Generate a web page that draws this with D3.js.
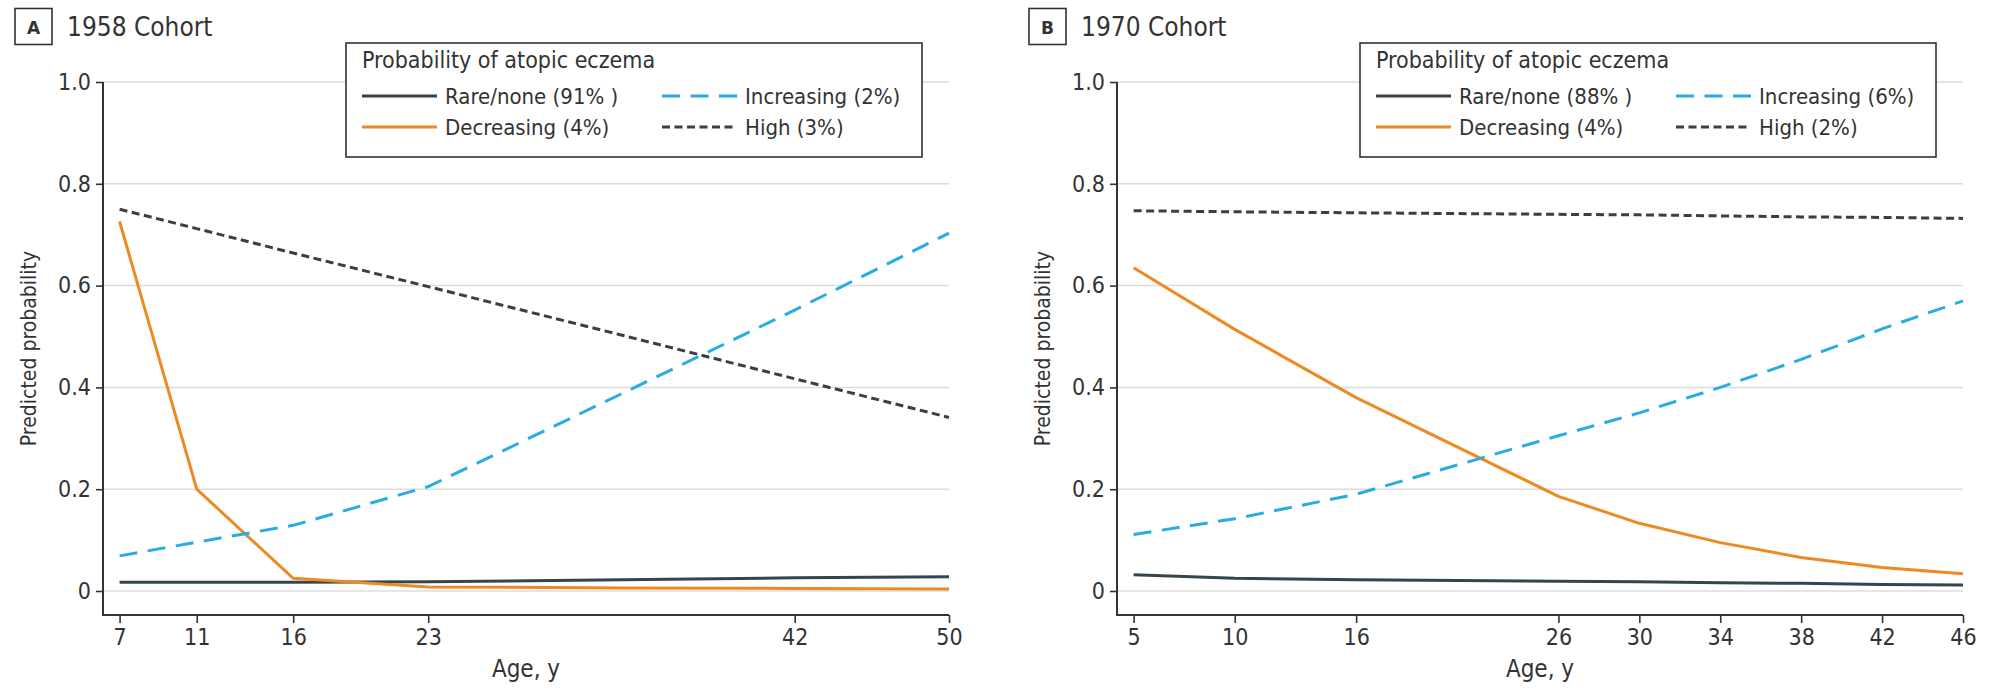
<!DOCTYPE html>
<html>
<head>
<meta charset="utf-8">
<script src="https://cdn.jsdelivr.net/npm/d3@7"></script>
<style>
  html, body { margin: 0; padding: 0; background: #ffffff; }
  svg { display: block; }
  text { font-family: "Liberation Sans Narrow", "DejaVu Sans Condensed", "Open Sans", sans-serif; fill: #333; }
</style>
</head>
<body>
<svg id="chart" width="1990" height="696"></svg>
<script>
// Predicted probability of atopic eczema by latent trajectory class

// 1958 cohort (NCDS)
const agesA = [7, 11, 16, 23, 33, 42, 50];
const tickAgesA = [7, 11, 16, 23, 42, 50];
const rareA = [0.017, 0.017, 0.017, 0.018, 0.022, 0.026, 0.028];
const decreasingA = [0.726, 0.20, 0.025, 0.008, 0.006, 0.005, 0.004];
const increasingA = [0.069, 0.096, 0.129, 0.205, 0.387, 0.552, 0.703];
const highA = [0.750, 0.712, 0.664, 0.598, 0.503, 0.417, 0.341];
const labelsA = ["Rare/none (91% )", "Decreasing (4%)", "Increasing (2%)", "High (3%)"];

// 1970 cohort (BCS70)
const agesB = [5, 10, 16, 26, 30, 34, 38, 42, 46];
const tickAgesB = [5, 10, 16, 26, 30, 34, 38, 42, 46];
const rareB = [0.032, 0.025, 0.022, 0.019, 0.018, 0.016, 0.015, 0.013, 0.012];
const decreasingB = [0.635, 0.514, 0.38, 0.186, 0.133, 0.095, 0.066, 0.046, 0.034];
const increasingB = [0.111, 0.142, 0.19, 0.305, 0.35, 0.40, 0.455, 0.515, 0.57];
const highB = [0.747, 0.745, 0.743, 0.740, 0.739, 0.737, 0.735, 0.734, 0.732];
const labelsB = ["Rare/none (88% )", "Decreasing (4%)", "Increasing (6%)", "High (2%)"];

const yTicks = [0, 0.2, 0.4, 0.6, 0.8, 1.0];
const legendTitle = "Probability of atopic eczema";

// line styles per trajectory class: rare, decreasing, increasing, high
const styles = [
  { color: "#34454d", dash: null, width: 3 },
  { color: "#ec8a24", dash: null, width: 3 },
  { color: "#29ace2", dash: "18,10.5", width: 3 },
  { color: "#3a3f44", dash: "8,4.5", width: 3 }
];

const svg = d3.select("#chart");

function drawPanel(p) {
  const g = svg.append("g");
  const axisX = p.left;
  const x = d3.scaleLinear()
    .domain([p.ages[0], p.ages[p.ages.length - 1]])
    .range([axisX + 16.6, axisX + 846]);
  const y = d3.scaleLinear().domain([0, 1]).range([591, 82]);
  const axisBottom = 615;

  // panel letter and title
  g.append("rect")
    .attr("x", p.left - 88).attr("y", 8.5)
    .attr("width", 37).attr("height", 36)
    .attr("fill", "none").attr("stroke", "#333").attr("stroke-width", 1.6);
  g.append("text")
    .attr("x", p.left - 69.5).attr("y", 33.5)
    .attr("text-anchor", "middle")
    .style("font-family", "'DejaVu Sans', sans-serif")
    .style("font-weight", "bold").style("font-size", "17px")
    .text(p.letter);
  g.append("text")
    .attr("x", p.left - 36).attr("y", 36)
    .style("font-size", "26px")
    .text(p.title);

  // horizontal gridlines
  g.append("g").selectAll("line").data(yTicks).join("line")
    .attr("x1", axisX).attr("x2", x.range()[1])
    .attr("y1", d => y(d)).attr("y2", d => y(d))
    .attr("stroke", "#dcdcdc").attr("stroke-width", 1.5);

  // y axis
  const yAxis = d3.axisLeft(y).tickValues(yTicks)
    .tickFormat(d => d === 0 ? "0" : d3.format(".1f")(d))
    .tickSize(7).tickPadding(5);
  const ya = g.append("g").attr("transform", `translate(${axisX},0)`).call(yAxis);
  ya.select(".domain").remove();
  ya.selectAll(".tick line").attr("stroke", "#333").attr("stroke-width", 1.6);
  ya.selectAll(".tick text").style("font-size", "23px").attr("fill", "#333")
    .style("font-family", "'Liberation Sans Narrow', 'DejaVu Sans Condensed', sans-serif");

  // x axis
  const xAxis = d3.axisBottom(x).tickValues(p.ticks).tickFormat(d3.format("d"))
    .tickSize(8).tickPadding(6);
  const xa = g.append("g").attr("transform", `translate(0,${axisBottom})`).call(xAxis);
  xa.select(".domain").remove();
  xa.selectAll(".tick line").attr("stroke", "#333").attr("stroke-width", 1.6);
  xa.selectAll(".tick text").style("font-size", "23px").attr("fill", "#333")
    .style("font-family", "'Liberation Sans Narrow', 'DejaVu Sans Condensed', sans-serif");

  // L-shaped axis frame
  g.append("path")
    .attr("d", `M${axisX},${y(1)}V${axisBottom}H${x.range()[1]}`)
    .attr("fill", "none").attr("stroke", "#333").attr("stroke-width", 2);

  // axis titles
  g.append("text")
    .attr("transform", `translate(${axisX - 74},${(y(1) + axisBottom) / 2}) rotate(-90)`)
    .attr("text-anchor", "middle").attr("dy", "0.35em")
    .style("font-size", "21px")
    .text("Predicted probability");
  g.append("text")
    .attr("x", (axisX + x.range()[1]) / 2).attr("y", 677)
    .attr("text-anchor", "middle")
    .style("font-size", "24px")
    .text("Age, y");

  // trajectory lines
  const line = d3.line().x(d => x(d[0])).y(d => y(d[1]));
  const series = [p.rare, p.decreasing, p.increasing, p.high];
  [0, 1, 2, 3].forEach(i => {
    g.append("path")
      .datum(p.ages.map((a, k) => [a, series[i][k]]))
      .attr("d", line)
      .attr("fill", "none")
      .attr("stroke", styles[i].color)
      .attr("stroke-width", styles[i].width)
      .attr("stroke-dasharray", styles[i].dash)
      .attr("stroke-linejoin", "round");
  });

  // legend
  const lx = p.left + 243, ly = 43;
  const lg = g.append("g").attr("transform", `translate(${lx},${ly})`);
  lg.append("rect").attr("width", 576).attr("height", 114)
    .attr("fill", "#fff").attr("stroke", "#333").attr("stroke-width", 1.6);
  lg.append("text").attr("x", 16).attr("y", 17).attr("dy", "0.35em")
    .style("font-size", "23px").text(legendTitle);
  const pos = [[0, 53], [0, 84], [300, 53], [300, 84]];
  p.labels.forEach((lab, i) => {
    const [ox, oy] = pos[i];
    lg.append("line")
      .attr("x1", ox + 16).attr("x2", ox + 91)
      .attr("y1", oy).attr("y2", oy)
      .attr("stroke", styles[i].color).attr("stroke-width", styles[i].width)
      .attr("stroke-dasharray", styles[i].dash);
    lg.append("text").attr("x", ox + 99).attr("y", oy).attr("dy", "0.35em")
      .style("font-size", "22px").text(lab);
  });
}

drawPanel({
  left: 103, letter: "A", title: "1958 Cohort",
  ages: agesA, ticks: tickAgesA,
  rare: rareA, decreasing: decreasingA, increasing: increasingA, high: highA,
  labels: labelsA
});
drawPanel({
  left: 1117, letter: "B", title: "1970 Cohort",
  ages: agesB, ticks: tickAgesB,
  rare: rareB, decreasing: decreasingB, increasing: increasingB, high: highB,
  labels: labelsB
});
</script>
</body>
</html>
